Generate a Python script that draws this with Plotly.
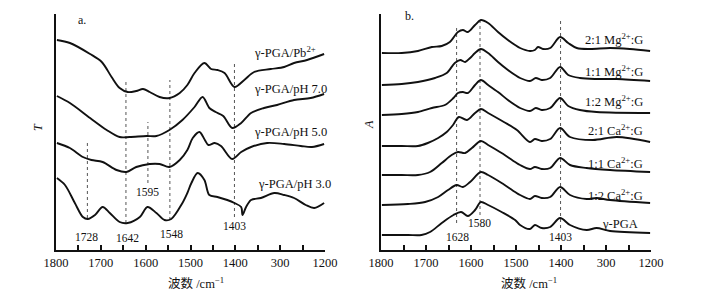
import plotly.graph_objects as go

W, H = 728, 301

# ---------------- Panel a (transmittance T, curves offset) ----------------
a_pb_wn = [1798,1769,1724,1698,1676,1658,1640,1621,1606,1591,1569,1547,1524,1507,1491,1469,1454,1440,1424,1402,1380,1358,1321,1291,1269,1240,1202]
a_pb_y  = [210,207,196,188,173,162,158,159,161,158,153,152,157,165,177,187,181,180,177,163,170,178,181,183,187,190,196]

a_ph7_wn = [1798,1769,1724,1687,1658,1636,1598,1576,1547,1518,1491,1473,1458,1444,1427,1407,1387,1365,1336,1307,1269,1232,1202]
a_ph7_y  = [154,147,132,120,113,113,114,114,120,130,143,153,142,138,134,122,127,137,142,145,150,152,156]

a_ph5_wn = [1798,1769,1740,1721,1696,1665,1643,1621,1591,1569,1547,1524,1507,1495,1480,1468,1460,1446,1432,1407,1387,1365,1329,1291,1254,1229,1202]
a_ph5_y  = [107,102,93,90,88,80,78,83,86,86,83,90,100,112,118,110,105,107,104,91,98,103,107,106,104,103,106]

a_ph3_wn = [1798,1780,1758,1740,1729,1713,1696,1680,1658,1640,1613,1596,1576,1558,1543,1518,1507,1498,1484,1469,1458,1440,1418,1402,1387,1384,1376,1365,1343,1313,1291,1269,1243,1224,1202]
a_ph3_y  = [72,65,47,33,31,35,43,37,28,27,33,43,37,30,31,47,57,67,77,70,55,53,50,47,43,35,43,50,52,57,55,52,45,42,47]

a_mark_wn   = [1730, 1644, 1595, 1546, 1402]
a_mark_top  = [107, 170, 128, 170, 187]
a_mark_bot  = [32, 27, 67, 30, 33]
a_peak_text = ["1728", "1642", "1595", "1548", "1403"]
a_peak_x    = [1731, 1640, 1596, 1542, 1402]
a_peak_y    = [13, 12, 58, 16, 24]

a_names   = ["γ-PGA/Pb<sup>2+</sup>", "γ-PGA/pH 7.0", "γ-PGA/pH 5.0", "γ-PGA/pH 3.0"]
a_name_x  = [1362, 1362, 1362, 1353]
a_name_y  = [198, 161, 118, 66]

# ---------------- Panel b (absorbance A, curves offset) ----------------
b_mg21_wn = [1798,1754,1718,1687,1665,1647,1629,1618,1607,1591,1578,1562,1540,1518,1502,1491,1469,1458,1451,1440,1424,1402,1384,1365,1336,1291,1247,1202]
b_mg21_y  = [197,197,199,203,204,208,218,220,218,225,230,227,218,210,205,202,199,200,203,201,202,213,207,202,201,202,201,199]

b_mg11_wn = [1798,1754,1718,1680,1654,1636,1624,1613,1602,1591,1578,1562,1540,1518,1502,1491,1469,1456,1443,1424,1402,1384,1358,1321,1276,1202]
b_mg11_y  = [165,166,168,172,177,187,190,188,192,197,201,197,188,180,175,172,169,172,170,172,183,175,172,171,171,169]

b_mg12_wn = [1798,1754,1718,1687,1658,1639,1629,1618,1607,1591,1578,1562,1540,1518,1502,1491,1469,1456,1443,1424,1402,1384,1358,1321,1202]
b_mg12_y  = [135,136,138,142,145,152,157,158,157,165,170,165,158,150,145,142,139,142,140,142,152,144,140,138,137]

b_ca21_wn = [1798,1754,1718,1696,1673,1654,1640,1627,1609,1591,1578,1562,1527,1498,1469,1458,1443,1424,1402,1380,1329,1276,1202]
b_ca21_y  = [104,104,104,107,112,118,125,133,130,137,141,137,128,120,108,111,109,111,122,113,110,113,108]

b_ca11_wn = [1798,1754,1718,1691,1665,1643,1629,1613,1598,1578,1562,1532,1502,1491,1469,1458,1443,1424,1402,1380,1343,1291,1202]
b_ca11_y  = [75,75,75,78,87,95,98,97,102,109,105,97,88,85,81,83,81,82,92,85,82,80,78]

b_ca12_wn = [1798,1740,1702,1673,1651,1632,1618,1602,1578,1562,1532,1502,1491,1469,1458,1443,1424,1402,1380,1343,1321,1291,1202]
b_ca12_y  = [45,46,48,53,60,65,63,68,78,75,67,58,55,51,54,52,53,63,55,51,52,50,47]

b_pga_wn = [1798,1740,1710,1691,1665,1639,1622,1607,1591,1578,1562,1532,1502,1491,1469,1458,1443,1424,1402,1380,1343,1321,1291,1202]
b_pga_y  = [15,15,15,18,27,35,38,34,40,48,45,38,30,25,21,25,22,23,32,25,20,22,19,17]

b_mark_wn   = [1632, 1580, 1401]
b_mark_top  = [223, 233, 230]
b_mark_bot  = [27, 35, 22]
b_peak_text = ["1628", "1580", "1403"]
b_peak_x    = [1629, 1582, 1401]
b_peak_y    = [13, 27, 13]

b_names  = ["2:1 Mg<sup>2+</sup>:G", "1:1 Mg<sup>2+</sup>:G", "1:2 Mg<sup>2+</sup>:G",
            "2:1 Ca<sup>2+</sup>:G", "1:1 Ca<sup>2+</sup>:G", "1:2 Ca<sup>2+</sup>:G", "γ-PGA"]
b_name_x = [1213, 1213, 1213, 1213, 1213, 1213, 1224]
b_name_y = [211, 179, 149, 120, 87, 55, 26]

# ---------------- Axis ticks ----------------
x_tickvals = [1800,1750,1700,1650,1600,1550,1500,1450,1400,1350,1300,1250,1200]
x_ticktext = ["1800","","1700","","1600","","1500","","1400","","300","","1200"]
x_title = "波数 /cm<sup>−1</sup>"

SERIF = "Liberation Serif, Times New Roman, Noto Sans CJK SC, serif"
INK = "#111111"

fig = go.Figure()

def add_curve(wn, y, xa, ya):
    fig.add_trace(go.Scatter(x=wn, y=y, mode="lines", xaxis=xa, yaxis=ya,
                             line=dict(color=INK, width=1.9, shape="spline", smoothing=0.9),
                             showlegend=False, hoverinfo="skip"))

def add_marks(wns, tops, bots, xa, ya):
    for w, t, b in zip(wns, tops, bots):
        fig.add_trace(go.Scatter(x=[w, w], y=[b, t], mode="lines", xaxis=xa, yaxis=ya,
                                 line=dict(color="#555555", width=1, dash="dot"),
                                 showlegend=False, hoverinfo="skip"))

add_marks(a_mark_wn, a_mark_top, a_mark_bot, "x", "y")
for wn, y in [(a_pb_wn, a_pb_y), (a_ph7_wn, a_ph7_y), (a_ph5_wn, a_ph5_y), (a_ph3_wn, a_ph3_y)]:
    add_curve(wn, y, "x", "y")

add_marks(b_mark_wn, b_mark_top, b_mark_bot, "x2", "y2")
for wn, y in [(b_mg21_wn, b_mg21_y), (b_mg11_wn, b_mg11_y), (b_mg12_wn, b_mg12_y),
              (b_ca21_wn, b_ca21_y), (b_ca11_wn, b_ca11_y), (b_ca12_wn, b_ca12_y),
              (b_pga_wn, b_pga_y)]:
    add_curve(wn, y, "x2", "y2")

ydom = [1 - 250 / H, 1 - 14 / H]
xcommon = dict(range=[1800, 1200], showline=True, linecolor=INK, linewidth=1.5,
               ticks="inside", ticklen=5, tickwidth=1.5, tickcolor=INK,
               tickvals=x_tickvals, ticktext=x_ticktext, showgrid=False, zeroline=False,
               automargin=False,
               tickfont=dict(family=SERIF, size=12.5, color=INK))
ycommon = dict(range=[0, 236], showline=True, linecolor=INK, linewidth=1.5,
               ticks="inside", ticklen=6, tickwidth=1.5, tickcolor=INK,
               tickvals=[236], showticklabels=False, showgrid=False, zeroline=False,
               automargin=False, domain=ydom)

fig.update_layout(
    template="none",
    width=W, height=H, margin=dict(l=0, r=0, t=0, b=0, pad=0, autoexpand=False),
    paper_bgcolor="white", plot_bgcolor="white", showlegend=False,
    xaxis=dict(domain=[56 / W, 325 / W], anchor="y", **xcommon),
    yaxis=dict(anchor="x", **ycommon),
    xaxis2=dict(domain=[381 / W, 651 / W], anchor="y2", **xcommon),
    yaxis2=dict(anchor="x2", **ycommon),
)

ann = []
def txt(x, y, s, xref, yref, size=12.5, xanchor="center", angle=0, italic=False):
    if italic:
        s = "<i>" + s + "</i>"
    ann.append(dict(x=x, y=y, xref=xref, yref=yref, text=s, showarrow=False,
                    xanchor=xanchor, yanchor="middle", textangle=angle,
                    font=dict(family=SERIF, size=size, color=INK)))

for s, x, y in zip(a_peak_text, a_peak_x, a_peak_y):
    txt(x, y, s, "x", "y", size=11.5)
for s, x, y in zip(a_names, a_name_x, a_name_y):
    txt(x, y, s, "x", "y", xanchor="left")
for s, x, y in zip(b_peak_text, b_peak_x, b_peak_y):
    txt(x, y, s, "x2", "y2", size=11.5)
for s, x, y in zip(b_names, b_name_x, b_name_y):
    txt(x, y, s, "x2", "y2", xanchor="right")

txt(82 / W, 1 - 20 / H, "a.", "paper", "paper", size=12)
txt(409 / W, 1 - 16 / H, "b.", "paper", "paper", size=12)
txt(38 / W, 1 - 127 / H, "T", "paper", "paper", size=12, angle=-90, italic=True)
txt(369 / W, 1 - 125 / H, "A", "paper", "paper", size=12, angle=-90, italic=True)
txt(196 / W, 1 - 283 / H, x_title, "paper", "paper", size=12.5)
txt(529 / W, 1 - 283 / H, x_title, "paper", "paper", size=12.5)

fig.update_layout(annotations=ann)
fig.write_html("out.html", config={"displayModeBar": False},
               post_script="document.body.style.margin='0';document.body.style.padding='0';")
